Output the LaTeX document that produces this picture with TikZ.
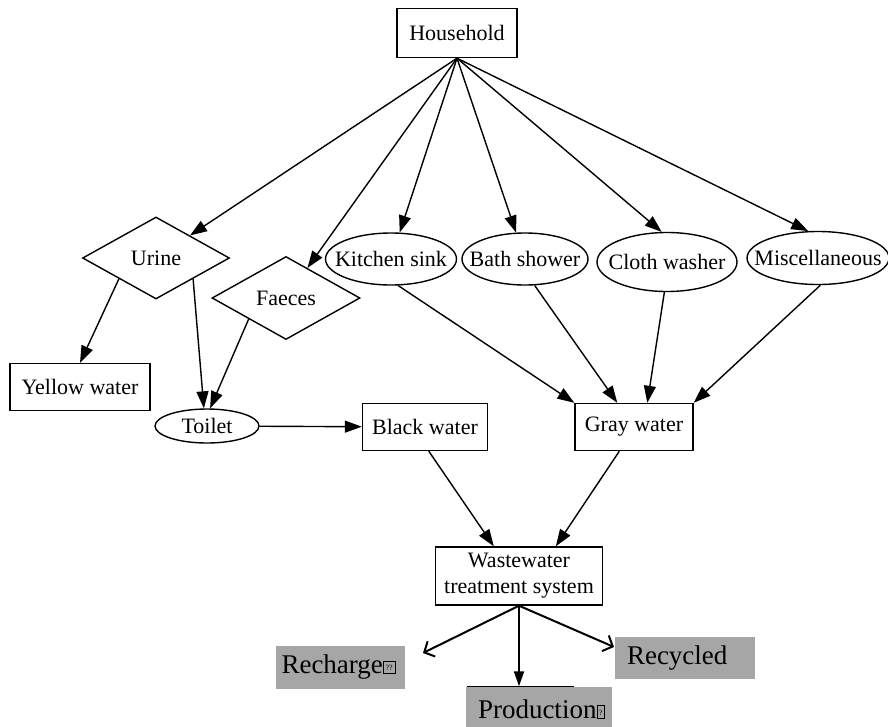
\documentclass[tikz,border=0pt]{standalone}
\usepackage{fontspec}
\setmainfont{Liberation Serif}
\usetikzlibrary{shapes.geometric,arrows.meta}
\definecolor{outletgray}{RGB}{166,166,166}
\newcommand{\glyphbox}[2]{{\setlength{\fboxsep}{0pt}\setlength{\fboxrule}{0.7pt}\fbox{\rule{0pt}{12pt}\makebox[#1]{\raisebox{3pt}{\fontsize{8}{8}\selectfont #2}}}}}

\begin{document}
\begin{tikzpicture}[x=1pt,y=-1pt,line width=1.4pt,
  >={Triangle[length=17pt,width=12pt]},
  every node/.style={font=\fontsize{22}{26}\selectfont},
  box/.style={draw,rectangle,inner sep=0pt,align=center},
  oval/.style={draw,ellipse,inner sep=0pt},
  choice/.style={draw,diamond,inner sep=0pt},
  outlet/.style={fill=outletgray,inner ysep=0pt,align=left,font=\fontsize{27}{30}\selectfont},
  flow/.style={line width=2pt}]
\useasboundingbox (0,0) rectangle (888,726);
% Source
\node[box,minimum width=120pt,minimum height=49pt] (house) at (457,33) {Household};
% Uses in the household
\node[choice,minimum width=147pt,minimum height=82pt,label=center:Urine] (urine) at (156,258) {};
\node[choice,minimum width=148pt,minimum height=83pt,label=center:Faeces] (faeces) at (286,298) {};
\node[oval,minimum width=131pt,minimum height=52pt,label=center:Kitchen sink] (kitchen) at (391,259) {};
\node[oval,minimum width=126pt,minimum height=52pt,label=center:Bath shower] (bath) at (525,259) {};
\node[oval,minimum width=140pt,minimum height=59pt,label=center:Cloth washer] (cloth) at (667,262) {};
\node[oval,minimum width=142pt,minimum height=53pt,label=center:Miscellaneous] (misc) at (818,258) {};
% Streams
\node[box,minimum width=140pt,minimum height=47pt] (yellow) at (80,387) {Yellow water};
\node[oval,minimum width=104pt,minimum height=34pt,label=center:Toilet] (toilet) at (207,426) {};
\node[box,minimum width=125pt,minimum height=47pt] (black) at (425,427) {Black water};
\node[box,minimum width=118pt,minimum height=47pt] (gray) at (634,427) {Gray water};
\node[box,minimum width=167pt,minimum height=58pt] (wts) at (519,576) {Wastewater\\treatment system};
% Edges from the household
\draw[->] (house.south) -- (urine);
\draw[->] (house.south) -- (faeces);
\draw[->] (house.south) -- (kitchen);
\draw[->] (house.south) -- (bath);
\draw[->] (house.south) -- (cloth.100);
\draw[->] (house.south) -- (misc.110);
\draw[->] (urine.south west) -- (yellow.north);
\draw[->] (urine.south east) -- (toilet.100);
\draw[->] (faeces.south west) -- (toilet.80);
\draw[->] (toilet) -- (black);
\draw[->] (kitchen.285) -- (gray.north west);
\draw[->] (bath.290) -- ([xshift=43pt]gray.north west);
\draw[->] (cloth.265) -- ([xshift=73pt]gray.north west);
\draw[->] (misc.275) -- (gray.north east);
\draw[->] ([xshift=67pt]black.south west) -- ([xshift=59pt]wts.north west);
\draw[->] ([xshift=45pt]gray.south west) -- ([xshift=121pt]wts.north west);
% Outlets
\node[outlet,text width=117pt,inner xsep=6pt,minimum height=43pt] (recharge) at (340,667) {Recharge\glyphbox{11pt}{??}};
\node[outlet,text width=116pt,inner xsep=12pt,minimum height=42pt] (recycled) at (685,658) {Recycled};
\node[outlet,text width=122pt,inner xsep=12pt,minimum height=44pt] (prod) at (539,709) {Production\glyphbox{7pt}{?}};
\coordinate (rechargein) at (423,653);
\coordinate (recycledin) at (614,647);
\draw[flow,-{Straight Barb[length=8pt,width=17pt]}] (wts.south) -- (rechargein);
\draw[flow,-{Triangle[length=15pt,width=10pt]}] (wts.south) -- (wts.south |- prod.north);
\draw[flow,-{Straight Barb[length=8pt,width=17pt]}] (wts.south) -- (recycledin);
\draw[line width=1.5pt] ([xshift=2pt]prod.north west) -- ([xshift=109pt]prod.north west);
\end{tikzpicture}
\end{document}
